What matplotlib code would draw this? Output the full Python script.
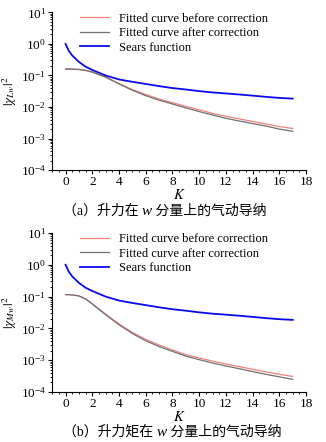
import matplotlib
matplotlib.use("Agg")
import matplotlib.pyplot as plt
from matplotlib.ticker import LogLocator, MultipleLocator, NullFormatter

plt.rcParams['font.family'] = ['Liberation Serif', 'Noto Sans CJK SC']
plt.rcParams['mathtext.fontset'] = 'stix'

# reduced frequency K
k = [0, 0.25, 0.5, 1, 1.5, 2, 3, 4, 5, 6, 7, 8, 9, 10, 11, 12, 13, 14, 15, 16, 17]

# Sears function (same in both panels)
sears = [1.0, 0.6, 0.43, 0.27, 0.19, 0.15, 0.1, 0.075, 0.063, 0.054, 0.046, 0.04,
         0.036, 0.032, 0.029, 0.027, 0.025, 0.023, 0.021, 0.0195, 0.0185]

# panel (a): lift
lift_before = [0.16, 0.16, 0.159, 0.155, 0.145, 0.13, 0.09, 0.056, 0.036, 0.025, 0.018, 0.0138,
               0.0105, 0.0082, 0.0063, 0.0051, 0.0042, 0.0035, 0.0029, 0.0024, 0.0021]
lift_after = [0.16, 0.16, 0.159, 0.155, 0.145, 0.128, 0.088, 0.054, 0.034, 0.023, 0.0165, 0.0125,
              0.0094, 0.0072, 0.0056, 0.0044, 0.0036, 0.003, 0.0025, 0.002, 0.0017]

# panel (b): moment
mom_before = [0.115, 0.115, 0.113, 0.105, 0.085, 0.06, 0.028, 0.0138, 0.0075, 0.0045, 0.003, 0.0021,
              0.0015, 0.00118, 0.00094, 0.00076, 0.00063, 0.00052, 0.00043, 0.00036, 0.00031]
mom_after = [0.115, 0.115, 0.113, 0.105, 0.084, 0.058, 0.027, 0.013, 0.0069, 0.0041, 0.0027, 0.0019,
             0.00135, 0.00104, 0.00082, 0.00066, 0.00054, 0.00044, 0.00036, 0.0003, 0.00025]

panels = [
    (lift_before, lift_after, r'$|\chi_{Lw}|^2$', '（a）升力在 ', ' 分量上的气动导纳',
     [0.16, 0.615, 0.779, 0.357], 1 - 211 / 442),
    (mom_before, mom_after, r'$|\chi_{Mw}|^2$', '（b）升力矩在 ', ' 分量上的气动导纳',
     [0.16, 0.113, 0.779, 0.360], 1 - 432 / 442),
]

fig = plt.figure(figsize=(3.26, 4.42), dpi=100)

for before, after, ylab, cap1, cap2, pos, cap_y in panels:
    ax = fig.add_axes(pos)
    ax.plot(k, before, color='#f08080', linewidth=0.9, label='Fitted curve before correction')
    ax.plot(k, after, color='#707070', linewidth=0.9, label='Fitted curve after correction')
    ax.plot(k, sears, color='#0a0af0', linewidth=1.3, label='Sears function')
    ax.set_yscale('log')
    ax.set_ylim(1e-4, 1e1)
    ax.set_xlim(-1, 18)
    ax.xaxis.set_major_locator(MultipleLocator(2))
    ax.xaxis.set_minor_locator(MultipleLocator(0.5))
    ax.yaxis.set_major_locator(LogLocator(base=10, numticks=10))
    ax.yaxis.set_minor_locator(LogLocator(base=10, subs=range(2, 10), numticks=10))
    ax.yaxis.set_minor_formatter(NullFormatter())
    ax.spines['top'].set_visible(False)
    ax.spines['right'].set_visible(False)
    ax.tick_params(which='both', direction='out', labelsize=9.5, pad=1.5)
    ax.tick_params(which='major', length=3)
    ax.tick_params(which='minor', length=1.5)
    ax.set_xlabel('$K$', fontsize=10.5, labelpad=0)
    ax.set_ylabel(ylab, fontsize=9.5, labelpad=1)
    ax.legend(loc='upper right', frameon=False, fontsize=9, handlelength=2.3,
              handletextpad=0.8, labelspacing=0.2, borderaxespad=0.0,
              bbox_to_anchor=(0.87, 1.03))
    # caption, italic w in the middle
    t1 = fig.text(63 / 326, cap_y, cap1, fontsize=10, ha='left', va='center')
    t2 = ax.annotate('w', xy=(1, 0), xycoords=t1, fontsize=11, fontstyle='italic',
                     ha='left', va='bottom', family='Liberation Serif')
    ax.annotate(cap2, xy=(1, 0), xycoords=t2, fontsize=10, ha='left', va='bottom')

fig.savefig('out.png', dpi=100)
